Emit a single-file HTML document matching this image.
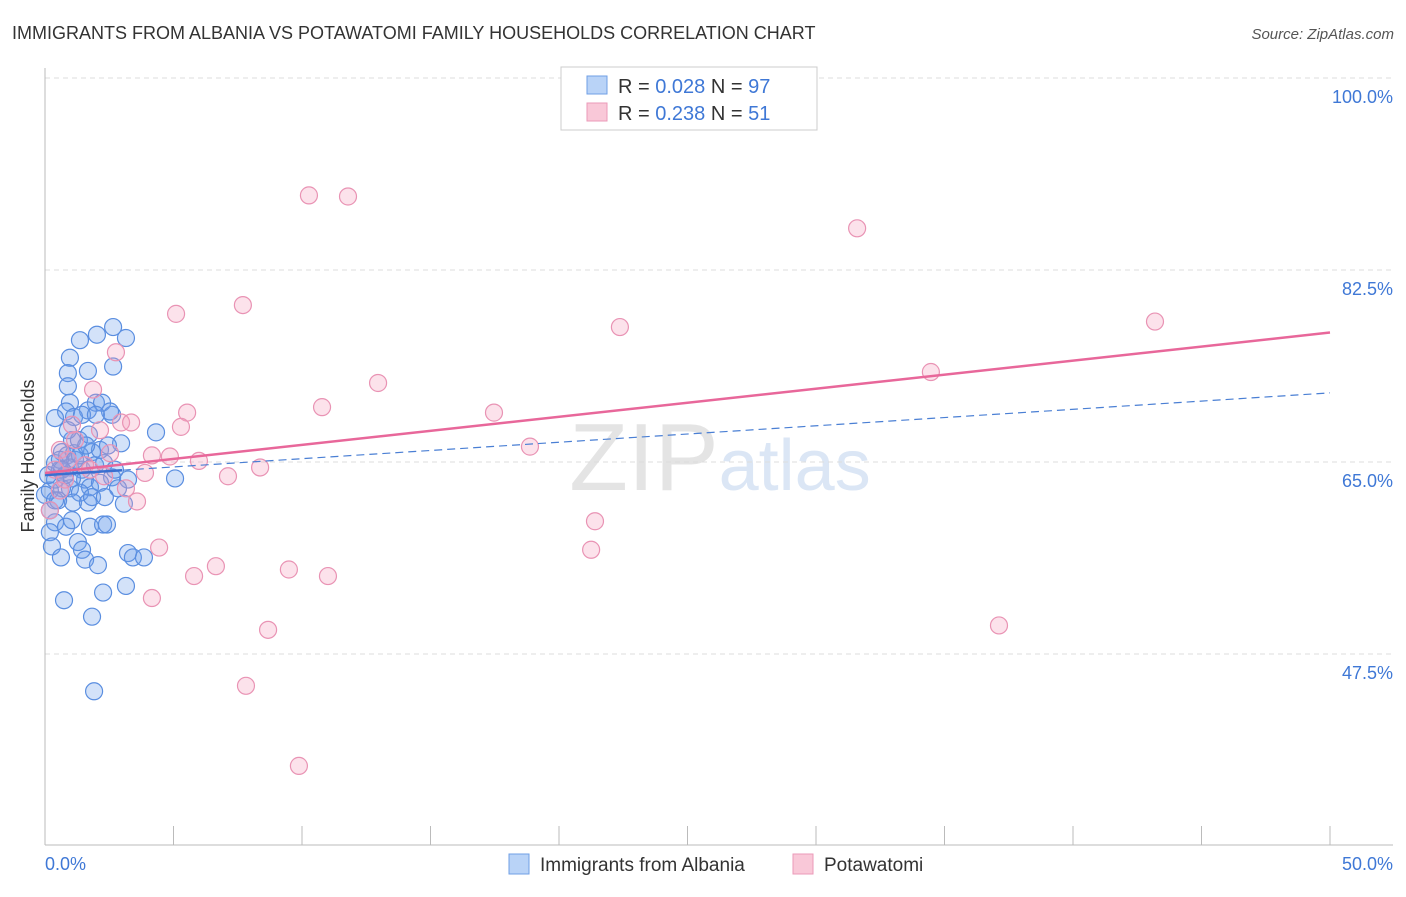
<!DOCTYPE html>
<html><head><meta charset="utf-8"><style>
body{margin:0;background:#fff;font-family:"Liberation Sans",sans-serif;}
svg text{font-family:"Liberation Sans",sans-serif;}
</style></head><body>
<svg id="chart" width="1406" height="892" xmlns="http://www.w3.org/2000/svg">
<text x="12" y="39" font-size="18" fill="#333">IMMIGRANTS FROM ALBANIA VS POTAWATOMI FAMILY HOUSEHOLDS CORRELATION CHART</text>
<text x="1394" y="39" font-size="15" fill="#555" font-style="italic" text-anchor="end">Source: ZipAtlas.com</text>
<text x="720" y="490" font-size="96" fill="#e4e4e4" text-anchor="middle" font-family="Liberation Serif">ZIP<tspan fill="#dbe6f5" font-family="Liberation Sans" font-size="72">atlas</tspan></text>
<g id="grid"></g>
<g id="axes"></g>
<g id="pts"></g>
<g id="trend"></g>
<text transform="translate(34,456) rotate(-90)" font-size="18" fill="#333" text-anchor="middle">Family Households</text>
<g>
<rect x="561" y="67" width="256" height="63" fill="#fff" stroke="#ccc"/>
<rect x="587" y="76" width="20" height="18" fill="#b9d3f7" stroke="#6f9fe6"/>
<rect x="587" y="103" width="20" height="18" fill="#f9c8d8" stroke="#eb9ab8"/>
<text x="618" y="93" font-size="20" fill="#333">R = <tspan fill="#3f78d6">0.028</tspan>   N = <tspan fill="#3f78d6">97</tspan></text>
<text x="618" y="120" font-size="20" fill="#333">R = <tspan fill="#3f78d6"> 0.238</tspan>   N = <tspan fill="#3f78d6"> 51</tspan></text>
</g>
<g>
<rect x="509" y="854" width="20" height="20" fill="#b9d3f7" stroke="#6f9fe6"/>
<text x="540" y="871" font-size="19" fill="#333">Immigrants from Albania</text>
<rect x="793" y="854" width="20" height="20" fill="#f9c8d8" stroke="#eb9ab8"/>
<text x="824" y="871" font-size="19" fill="#333">Potawatomi</text>
</g>
</svg>
<script>
const yTicks=[100,82.5,65,47.5];
const xTickLabels=["0.0%","50.0%"];
const blueX=[2.65,3.15,2.02,1.36,0.97,2.65,1.67,0.89,0.89,0.97,1.98,2.22,2.61,1.67,0.82,1.13,0.39,2.53,1.05,1.32,1.71,2.96,4.32,0.66,0.86,1.13,1.83,0.39,0.58,0.97,1.44,1.95,2.30,2.61,3.23,5.06,1.56,1.75,0.97,0.66,0.19,0.39,1.36,2.14,3.07,1.09,1.67,0.39,0.82,1.05,1.75,2.26,2.41,0.19,1.28,0.27,1.44,0.62,1.56,3.23,3.42,3.85,2.06,3.15,2.26,0.74,1.83,1.91,0.19,0.51,0.78,1.17,0,0.12,0.58,1.44,2.14,2.72,2.84,1.83,2.33,1.36,0.89,2.45,0.39,0.66,1.05,1.60,1.98];
const blueY=[77.3,76.3,76.6,76.1,74.5,73.7,73.3,73.1,71.9,70.4,70.4,70.4,69.3,69.7,69.6,69.1,69.0,69.6,67.0,67.0,67.5,66.7,67.7,65.9,65.6,65.8,65.9,64.9,64.3,64.5,64.3,64.7,64.9,63.6,63.4,63.5,63.4,62.7,62.6,62.6,62.4,63.4,62.2,63.1,61.2,61.3,61.3,59.5,59.1,59.7,59.1,59.3,59.3,58.6,57.7,57.3,57.0,56.3,56.1,56.7,56.3,56.3,55.6,53.7,53.1,52.4,50.9,44.1,60.6,61.5,63.8,65.2,62.0,63.8,65.2,69.3,66.1,64.3,62.6,61.8,61.8,65.6,67.9,66.5,61.5,64.3,63.5,66.5,69.3];
const pinkX=[10.27,11.79,31.6,7.70,5.10,22.37,43.19,2.76,12.96,34.47,1.87,10.78,5.53,17.47,5.29,2.96,3.35,18.87,2.53,4.16,4.86,5.99,8.37,7.12,3.89,2.30,3.15,3.58,21.4,21.25,4.44,6.65,5.80,9.49,11.01,4.16,8.68,37.12,7.82,9.88,1.05,1.17,0.58,0.89,1.56,0.58,0.19,1.75,0.78,2.14,0.39];
const pinkY=[89.3,89.2,86.3,79.3,78.5,77.3,77.8,75.0,72.2,73.2,71.6,70.0,69.5,69.5,68.2,68.6,68.6,66.4,65.8,65.6,65.5,65.1,64.5,63.7,64.0,63.7,62.6,61.4,59.6,57.0,57.2,55.5,54.6,55.2,54.6,52.6,49.7,50.1,44.6,37.3,68.4,67.0,66.1,65.2,64.7,62.4,60.6,64.3,63.4,67.9,64.3];
const blueTrend=[63.8,71.3];
const pinkTrend=[64.0,76.8];
const NS="http://www.w3.org/2000/svg";
const X=v=>45+v*25.7, Y=v=>78+(100-v)*10.971;
function mk(t,a,p){const e=document.createElementNS(NS,t);for(const k in a)e.setAttribute(k,a[k]);p.appendChild(e);return e;}
const grid=document.getElementById('grid'),axes=document.getElementById('axes'),pts=document.getElementById('pts'),trend=document.getElementById('trend');
yTicks.forEach(t=>{
 const l=mk('line',{x1:45,x2:1393,y1:Y(t),y2:Y(t),stroke:'#ddd','stroke-dasharray':'5,4'},grid);
 
 
 const tx=mk('text',{x:1393,y:Y(t)+25,'font-size':18,fill:'#3f78d6','text-anchor':'end'},grid);
 tx.textContent=t.toFixed(1)+'%';
 
 
});
const yl=mk('line',{x1:45,x2:45,y1:68,y2:845,stroke:'#bbb'},axes);


const xl=mk('line',{x1:45,x2:1393,y1:845,y2:845,stroke:'#bbb'},axes);


for(let i=0;i<=10;i++){const tk=mk('line',{x1:X(i*5),x2:X(i*5),y1:826,y2:845,stroke:'#bbb'},axes);
 
 }
[[0,'start',45],[50,'end',1393]].forEach((d,i)=>{const t=mk('text',{x:d[2],y:870,'font-size':18,fill:'#3f78d6','text-anchor':d[1]},axes);t.textContent=xTickLabels[i];
 
 });
blueX.forEach((x,i)=>{const c=mk('circle',{cx:X(x),cy:Y(blueY[i]),r:8.5,fill:'rgba(110,160,235,0.3)',stroke:'#5a8ee0','stroke-width':1.2},pts);
 
 });
pinkX.forEach((x,i)=>{const c=mk('circle',{cx:X(x),cy:Y(pinkY[i]),r:8.5,fill:'rgba(245,160,190,0.3)',stroke:'#e993b4','stroke-width':1.2},pts);
 
 });
const bt=mk('line',{x1:X(0),y1:Y(blueTrend[0]),x2:X(50),y2:Y(blueTrend[1]),stroke:'#4a7fd4','stroke-width':1.2,'stroke-dasharray':'8,5'},trend);


const bs=mk('line',{x1:X(0),y1:Y(blueTrend[0]),x2:X(3),y2:Y(blueTrend[0]+(blueTrend[1]-blueTrend[0])*3/50),stroke:'#3a6fd0','stroke-width':2.5},trend);


const pt=mk('line',{x1:X(0),y1:Y(pinkTrend[0]),x2:X(50),y2:Y(pinkTrend[1]),stroke:'#e8679a','stroke-width':2.5},trend);


</script>
</body></html>
